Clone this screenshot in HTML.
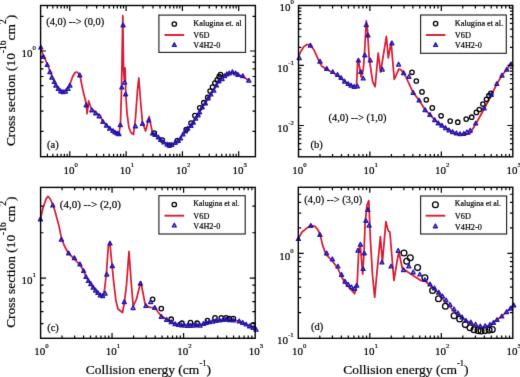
<!DOCTYPE html><html><head><meta charset="utf-8"><style>html,body{margin:0;padding:0;background:#fff;}svg{display:block;}text{font-family:"Liberation Serif", serif;fill:#000;stroke:#000;stroke-width:0.2px;}</style></head><body>
<svg width="520" height="377" viewBox="0 0 520 377">
<defs><filter id="bl" x="0" y="0" width="520" height="377" filterUnits="userSpaceOnUse" color-interpolation-filters="sRGB"><feConvolveMatrix order="3" kernelMatrix="0 1 0 1 8 1 0 1 0" divisor="12" edgeMode="duplicate"/></filter></defs><g filter="url(#bl)"><rect width="520" height="377" fill="#fff"/>
<path d="M40.50 48.50L43.50 55.50L47.00 63.50L50.00 71.00L52.00 76.50L54.50 81.50L56.00 85.00L58.30 88.50L60.70 91.00L63.00 92.00L65.50 91.00L68.00 87.50L70.00 84.00L72.50 77.00L75.00 72.50L77.00 72.00L79.00 74.00L80.50 78.00L82.00 86.00L84.00 95.00L86.10 103.00L87.10 113.70L88.70 100.90L90.90 107.80L95.90 112.70L100.20 115.60L102.90 121.60L106.50 125.40L109.70 128.40L112.90 130.70L115.00 132.20L117.20 133.20L119.00 134.00L120.50 123.00L121.50 90.00L122.80 15.60L123.60 70.00L124.30 80.00L125.10 68.00L125.80 94.00L127.00 113.00L129.00 128.00L131.00 132.50L133.50 134.50L135.50 118.00L137.50 90.00L138.80 78.00L140.50 100.00L142.40 122.30L145.60 131.00L149.20 116.70L152.40 132.60L155.10 134.70L158.30 137.00L160.70 139.50L163.90 142.20L167.10 144.30L169.50 145.40L171.80 144.60L175.00 142.70L178.20 140.60L180.60 138.20L183.00 134.20L185.40 131.00L187.80 128.30L191.00 125.50L193.30 122.30L195.70 118.30L198.10 115.10L202.20 107.00L205.40 103.00L208.10 98.20L210.90 94.20L213.80 90.30L216.50 85.20L218.90 81.00L222.10 78.80L224.50 75.90L226.80 74.00L229.20 73.10L232.40 72.30L235.60 73.10L238.00 74.60L242.80 76.50L248.80 80.40" fill="none" stroke="#d81c34" stroke-width="1.75" stroke-linejoin="round"/>
<circle cx="154.30" cy="133.00" r="2.2" fill="none" stroke="#000" stroke-width="1.3"/>
<circle cx="162.30" cy="140.00" r="2.2" fill="none" stroke="#000" stroke-width="1.3"/>
<circle cx="169.50" cy="145.00" r="2.2" fill="none" stroke="#000" stroke-width="1.3"/>
<circle cx="177.40" cy="140.60" r="2.2" fill="none" stroke="#000" stroke-width="1.3"/>
<circle cx="186.20" cy="129.50" r="2.2" fill="none" stroke="#000" stroke-width="1.3"/>
<circle cx="191.00" cy="123.10" r="2.2" fill="none" stroke="#000" stroke-width="1.3"/>
<circle cx="194.90" cy="115.60" r="2.2" fill="none" stroke="#000" stroke-width="1.3"/>
<circle cx="199.80" cy="107.80" r="2.2" fill="none" stroke="#000" stroke-width="1.3"/>
<circle cx="203.80" cy="102.70" r="2.2" fill="none" stroke="#000" stroke-width="1.3"/>
<circle cx="207.70" cy="97.40" r="2.2" fill="none" stroke="#000" stroke-width="1.3"/>
<circle cx="210.10" cy="91.00" r="2.2" fill="none" stroke="#000" stroke-width="1.3"/>
<circle cx="212.50" cy="87.10" r="2.2" fill="none" stroke="#000" stroke-width="1.3"/>
<circle cx="214.90" cy="83.10" r="2.2" fill="none" stroke="#000" stroke-width="1.3"/>
<circle cx="217.30" cy="79.90" r="2.2" fill="none" stroke="#000" stroke-width="1.3"/>
<circle cx="219.20" cy="76.70" r="2.2" fill="none" stroke="#000" stroke-width="1.3"/>
<circle cx="220.50" cy="74.60" r="2.2" fill="none" stroke="#000" stroke-width="1.3"/>
<path d="M40.80 45.20L42.85 48.95L38.75 48.95ZM43.50 54.70L45.55 58.45L41.45 58.45ZM47.20 62.70L49.25 66.45L45.15 66.45ZM49.90 69.80L51.95 73.55L47.85 73.55ZM51.90 75.40L53.95 79.15L49.85 79.15ZM54.30 79.70L56.35 83.45L52.25 83.45ZM55.90 83.40L57.95 87.15L53.85 87.15ZM58.30 86.60L60.35 90.35L56.25 90.35ZM60.70 89.00L62.75 92.75L58.65 92.75ZM63.10 89.80L65.15 93.55L61.05 93.55ZM65.50 89.30L67.55 93.05L63.45 93.05ZM67.90 86.60L69.95 90.35L65.85 90.35ZM69.90 83.40L71.95 87.15L67.85 87.15ZM79.80 73.00L81.85 76.75L77.75 76.75ZM86.20 103.00L88.25 106.75L84.15 106.75ZM91.80 108.00L93.85 111.75L89.75 111.75ZM95.70 111.00L97.75 114.75L93.65 114.75ZM99.20 114.00L101.25 117.75L97.15 117.75ZM102.90 119.60L104.95 123.35L100.85 123.35ZM106.50 123.40L108.55 127.15L104.45 127.15ZM109.70 126.40L111.75 130.15L107.65 130.15ZM112.90 128.70L114.95 132.45L110.85 132.45ZM115.00 130.20L117.05 133.95L112.95 133.95ZM117.20 131.20L119.25 134.95L115.15 134.95ZM118.90 131.90L120.95 135.65L116.85 135.65ZM120.30 122.90L122.35 126.65L118.25 126.65ZM121.80 85.20L123.85 88.95L119.75 88.95ZM123.10 23.00L125.15 26.75L121.05 26.75ZM124.60 80.30L126.65 84.05L122.55 84.05ZM125.60 92.00L127.65 95.75L123.55 95.75ZM135.40 124.00L137.45 127.75L133.35 127.75ZM142.50 121.50L144.55 125.25L140.45 125.25ZM148.70 118.00L150.75 121.75L146.65 121.75ZM152.50 131.20L154.55 134.95L150.45 134.95ZM155.10 132.70L157.15 136.45L153.05 136.45ZM158.30 135.00L160.35 138.75L156.25 138.75ZM160.70 137.50L162.75 141.25L158.65 141.25ZM163.90 140.20L165.95 143.95L161.85 143.95ZM167.10 142.30L169.15 146.05L165.05 146.05ZM169.50 143.40L171.55 147.15L167.45 147.15ZM171.80 142.60L173.85 146.35L169.75 146.35ZM175.00 140.70L177.05 144.45L172.95 144.45ZM178.20 138.60L180.25 142.35L176.15 142.35ZM180.60 136.20L182.65 139.95L178.55 139.95ZM183.00 132.20L185.05 135.95L180.95 135.95ZM185.40 129.00L187.45 132.75L183.35 132.75ZM187.80 126.30L189.85 130.05L185.75 130.05ZM191.00 123.50L193.05 127.25L188.95 127.25ZM193.30 120.30L195.35 124.05L191.25 124.05ZM195.70 116.30L197.75 120.05L193.65 120.05ZM198.10 113.10L200.15 116.85L196.05 116.85ZM199.50 110.00L201.55 113.75L197.45 113.75ZM202.20 105.00L204.25 108.75L200.15 108.75ZM205.40 101.00L207.45 104.75L203.35 104.75ZM208.10 96.20L210.15 99.95L206.05 99.95ZM210.90 92.20L212.95 95.95L208.85 95.95ZM213.80 88.30L215.85 92.05L211.75 92.05ZM216.50 83.20L218.55 86.95L214.45 86.95ZM218.90 79.00L220.95 82.75L216.85 82.75ZM222.10 76.80L224.15 80.55L220.05 80.55ZM224.50 73.90L226.55 77.65L222.45 77.65ZM226.80 72.00L228.85 75.75L224.75 75.75ZM229.20 71.10L231.25 74.85L227.15 74.85ZM232.40 69.90L234.45 73.65L230.35 73.65ZM235.60 71.10L237.65 74.85L233.55 74.85ZM238.00 72.60L240.05 76.35L235.95 76.35ZM242.80 73.90L244.85 77.65L240.75 77.65ZM248.80 78.40L250.85 82.15L246.75 82.15Z" fill="#1f16b0" fill-opacity="0.45" stroke="#1f16b0" stroke-width="1.3" stroke-linejoin="round"/>
<rect x="40.6" y="5.5" width="214.80" height="151.20" fill="none" stroke="#000" stroke-width="1.4"/>
<path d="M47.40 156.70v-2.9M47.40 5.50v2.9M52.85 156.70v-2.9M52.85 5.50v2.9M57.31 156.70v-2.9M57.31 5.50v2.9M61.08 156.70v-2.9M61.08 5.50v2.9M64.34 156.70v-2.9M64.34 5.50v2.9M67.22 156.70v-2.9M67.22 5.50v2.9M69.80 156.70v-5.4M69.80 5.50v5.4M86.75 156.70v-2.9M86.75 5.50v2.9M96.66 156.70v-2.9M96.66 5.50v2.9M103.70 156.70v-2.9M103.70 5.50v2.9M109.15 156.70v-2.9M109.15 5.50v2.9M113.61 156.70v-2.9M113.61 5.50v2.9M117.38 156.70v-2.9M117.38 5.50v2.9M120.64 156.70v-2.9M120.64 5.50v2.9M123.52 156.70v-2.9M123.52 5.50v2.9M126.10 156.70v-5.4M126.10 5.50v5.4M143.05 156.70v-2.9M143.05 5.50v2.9M152.96 156.70v-2.9M152.96 5.50v2.9M160.00 156.70v-2.9M160.00 5.50v2.9M165.45 156.70v-2.9M165.45 5.50v2.9M169.91 156.70v-2.9M169.91 5.50v2.9M173.68 156.70v-2.9M173.68 5.50v2.9M176.94 156.70v-2.9M176.94 5.50v2.9M179.82 156.70v-2.9M179.82 5.50v2.9M182.40 156.70v-5.4M182.40 5.50v5.4M199.35 156.70v-2.9M199.35 5.50v2.9M209.26 156.70v-2.9M209.26 5.50v2.9M216.30 156.70v-2.9M216.30 5.50v2.9M221.75 156.70v-2.9M221.75 5.50v2.9M226.21 156.70v-2.9M226.21 5.50v2.9M229.98 156.70v-2.9M229.98 5.50v2.9M233.24 156.70v-2.9M233.24 5.50v2.9M236.12 156.70v-2.9M236.12 5.50v2.9M238.70 156.70v-5.4M238.70 5.50v5.4M40.60 131.38h2.9M255.40 131.38h-2.9M40.60 111.13h2.9M255.40 111.13h-2.9M40.60 96.76h2.9M255.40 96.76h-2.9M40.60 85.62h2.9M255.40 85.62h-2.9M40.60 76.51h2.9M255.40 76.51h-2.9M40.60 68.81h2.9M255.40 68.81h-2.9M40.60 62.14h2.9M255.40 62.14h-2.9M40.60 56.26h2.9M255.40 56.26h-2.9M40.60 51.00h5.4M255.40 51.00h-5.4M40.60 16.38h2.9M255.40 16.38h-2.9" stroke="#000" stroke-width="1.2" fill="none"/>
<path d="M298.50 56.60L301.00 51.00L304.00 46.50L307.00 44.50L309.00 44.50L311.50 46.50L314.00 50.00L316.00 54.30L319.50 62.20L321.90 66.20L326.70 69.50L332.70 72.50L337.50 75.50L341.10 78.50L344.60 81.50L348.20 84.00L351.10 85.50L353.00 86.60L356.50 86.40L357.70 61.40L358.40 60.20L361.20 77.00L363.20 70.00L364.40 55.50L366.30 20.80L367.50 30.00L369.10 57.80L372.70 81.80L375.10 86.60L378.20 53.10L380.60 72.20L386.40 36.30L388.30 57.80L391.10 42.30L394.30 79.40L398.80 69.10L400.90 69.60L405.70 76.50L411.50 89.20L413.20 92.60L419.10 100.20L425.10 109.80L429.90 114.60L434.70 119.90L438.30 123.00L441.90 125.40L445.50 127.80L449.00 130.10L452.60 131.80L456.20 133.30L460.00 134.00L469.70 134.00L475.70 124.00L484.10 109.00L491.30 95.00L496.80 84.00L502.00 75.30L506.80 69.40L511.60 62.50" fill="none" stroke="#d81c34" stroke-width="1.75" stroke-linejoin="round"/>
<circle cx="412.00" cy="72.30" r="2.2" fill="none" stroke="#000" stroke-width="1.3"/>
<circle cx="416.30" cy="81.00" r="2.2" fill="none" stroke="#000" stroke-width="1.3"/>
<circle cx="422.00" cy="91.90" r="2.2" fill="none" stroke="#000" stroke-width="1.3"/>
<circle cx="426.30" cy="99.80" r="2.2" fill="none" stroke="#000" stroke-width="1.3"/>
<circle cx="432.30" cy="107.90" r="2.2" fill="none" stroke="#000" stroke-width="1.3"/>
<circle cx="441.10" cy="115.80" r="2.2" fill="none" stroke="#000" stroke-width="1.3"/>
<circle cx="450.20" cy="121.10" r="2.2" fill="none" stroke="#000" stroke-width="1.3"/>
<circle cx="457.80" cy="122.20" r="2.2" fill="none" stroke="#000" stroke-width="1.3"/>
<circle cx="466.20" cy="119.10" r="2.2" fill="none" stroke="#000" stroke-width="1.3"/>
<circle cx="471.70" cy="117.20" r="2.2" fill="none" stroke="#000" stroke-width="1.3"/>
<circle cx="476.40" cy="112.40" r="2.2" fill="none" stroke="#000" stroke-width="1.3"/>
<circle cx="479.30" cy="109.50" r="2.2" fill="none" stroke="#000" stroke-width="1.3"/>
<circle cx="482.90" cy="104.00" r="2.2" fill="none" stroke="#000" stroke-width="1.3"/>
<circle cx="486.50" cy="99.30" r="2.2" fill="none" stroke="#000" stroke-width="1.3"/>
<circle cx="488.90" cy="95.70" r="2.2" fill="none" stroke="#000" stroke-width="1.3"/>
<circle cx="490.80" cy="93.30" r="2.2" fill="none" stroke="#000" stroke-width="1.3"/>
<path d="M299.20 55.80L301.25 59.55L297.15 59.55ZM310.40 43.40L312.45 47.15L308.35 47.15ZM320.00 59.40L322.05 63.15L317.95 63.15ZM326.70 66.60L328.75 70.35L324.65 70.35ZM332.70 69.70L334.75 73.45L330.65 73.45ZM337.50 72.60L339.55 76.35L335.45 76.35ZM341.10 75.70L343.15 79.45L339.05 79.45ZM344.60 79.30L346.65 83.05L342.55 83.05ZM348.20 81.70L350.25 85.45L346.15 85.45ZM351.10 83.40L353.15 87.15L349.05 87.15ZM354.20 84.60L356.25 88.35L352.15 88.35ZM357.30 84.10L359.35 87.85L355.25 87.85ZM358.40 58.20L360.45 61.95L356.35 61.95ZM360.80 69.70L362.85 73.45L358.75 73.45ZM363.20 76.20L365.25 79.95L361.15 79.95ZM364.80 53.00L366.85 56.75L362.75 56.75ZM366.30 22.80L368.35 26.55L364.25 26.55ZM367.90 33.10L369.95 36.85L365.85 36.85ZM370.30 58.20L372.35 61.95L368.25 61.95ZM382.30 67.30L384.35 71.05L380.25 71.05ZM391.90 41.00L393.95 44.75L389.85 44.75ZM398.60 62.30L400.65 66.05L396.55 66.05ZM403.60 70.80L405.65 74.55L401.55 74.55ZM408.90 74.50L410.95 78.25L406.85 78.25ZM413.20 90.60L415.25 94.35L411.15 94.35ZM419.10 98.20L421.15 101.95L417.05 101.95ZM425.10 107.80L427.15 111.55L423.05 111.55ZM429.90 112.60L431.95 116.35L427.85 116.35ZM434.70 117.90L436.75 121.65L432.65 121.65ZM438.30 121.00L440.35 124.75L436.25 124.75ZM441.90 123.40L443.95 127.15L439.85 127.15ZM445.50 125.80L447.55 129.55L443.45 129.55ZM449.00 128.10L451.05 131.85L446.95 131.85ZM452.60 129.80L454.65 133.55L450.55 133.55ZM456.40 131.00L458.45 134.75L454.35 134.75ZM460.00 131.80L462.05 135.55L457.95 135.55ZM463.80 131.50L465.85 135.25L461.75 135.25ZM466.90 130.00L468.95 133.75L464.85 133.75ZM470.20 128.40L472.25 132.15L468.15 132.15ZM475.70 121.20L477.75 124.95L473.65 124.95ZM484.10 106.10L486.15 109.85L482.05 109.85ZM491.30 92.50L493.35 96.25L489.25 96.25ZM496.80 81.70L498.85 85.45L494.75 85.45ZM502.00 73.30L504.05 77.05L499.95 77.05ZM506.80 67.40L508.85 71.15L504.75 71.15ZM510.90 62.10L512.95 65.85L508.85 65.85Z" fill="#1f16b0" fill-opacity="0.45" stroke="#1f16b0" stroke-width="1.3" stroke-linejoin="round"/>
<rect x="298.5" y="5.5" width="214.30" height="151.30" fill="none" stroke="#000" stroke-width="1.4"/>
<path d="M319.99 156.80v-2.9M319.99 5.50v2.9M332.57 156.80v-2.9M332.57 5.50v2.9M341.49 156.80v-2.9M341.49 5.50v2.9M348.41 156.80v-2.9M348.41 5.50v2.9M354.06 156.80v-2.9M354.06 5.50v2.9M358.84 156.80v-2.9M358.84 5.50v2.9M362.98 156.80v-2.9M362.98 5.50v2.9M366.63 156.80v-2.9M366.63 5.50v2.9M369.90 156.80v-5.4M369.90 5.50v5.4M391.39 156.80v-2.9M391.39 5.50v2.9M403.97 156.80v-2.9M403.97 5.50v2.9M412.89 156.80v-2.9M412.89 5.50v2.9M419.81 156.80v-2.9M419.81 5.50v2.9M425.46 156.80v-2.9M425.46 5.50v2.9M430.24 156.80v-2.9M430.24 5.50v2.9M434.38 156.80v-2.9M434.38 5.50v2.9M438.03 156.80v-2.9M438.03 5.50v2.9M441.30 156.80v-5.4M441.30 5.50v5.4M462.79 156.80v-2.9M462.79 5.50v2.9M475.37 156.80v-2.9M475.37 5.50v2.9M484.29 156.80v-2.9M484.29 5.50v2.9M491.21 156.80v-2.9M491.21 5.50v2.9M496.86 156.80v-2.9M496.86 5.50v2.9M501.64 156.80v-2.9M501.64 5.50v2.9M505.78 156.80v-2.9M505.78 5.50v2.9M509.43 156.80v-2.9M509.43 5.50v2.9M298.50 149.42h2.9M512.80 149.42h-2.9M298.50 143.59h2.9M512.80 143.59h-2.9M298.50 138.83h2.9M512.80 138.83h-2.9M298.50 134.81h2.9M512.80 134.81h-2.9M298.50 131.32h2.9M512.80 131.32h-2.9M298.50 128.25h2.9M512.80 128.25h-2.9M298.50 125.50h5.4M512.80 125.50h-5.4M298.50 107.41h2.9M512.80 107.41h-2.9M298.50 96.83h2.9M512.80 96.83h-2.9M298.50 89.32h2.9M512.80 89.32h-2.9M298.50 83.49h2.9M512.80 83.49h-2.9M298.50 78.73h2.9M512.80 78.73h-2.9M298.50 74.71h2.9M512.80 74.71h-2.9M298.50 71.22h2.9M512.80 71.22h-2.9M298.50 68.15h2.9M512.80 68.15h-2.9M298.50 65.40h5.4M512.80 65.40h-5.4M298.50 47.31h2.9M512.80 47.31h-2.9M298.50 36.73h2.9M512.80 36.73h-2.9M298.50 29.22h2.9M512.80 29.22h-2.9M298.50 23.39h2.9M512.80 23.39h-2.9M298.50 18.63h2.9M512.80 18.63h-2.9M298.50 14.61h2.9M512.80 14.61h-2.9M298.50 11.12h2.9M512.80 11.12h-2.9M298.50 8.05h2.9M512.80 8.05h-2.9" stroke="#000" stroke-width="1.2" fill="none"/>
<path d="M40.40 219.10L43.00 208.00L46.00 199.00L48.00 196.40L50.00 198.50L52.80 204.70L55.00 211.00L57.10 219.10L59.00 226.00L60.70 234.60L61.90 239.40L64.00 245.00L67.90 252.60L73.90 258.60L79.90 264.60L83.60 270.70L86.00 276.70L88.40 280.70L90.80 283.80L93.20 287.40L95.60 290.30L97.90 292.70L100.30 295.10L102.70 295.80L104.50 290.00L106.50 272.00L108.30 246.00L109.80 242.00L111.70 262.00L113.50 280.20L115.90 300.60L118.00 309.00L122.50 312.50L124.30 303.00L126.50 285.00L129.00 251.50L131.00 280.00L133.20 306.50L136.50 299.00L140.80 281.80L143.00 293.00L145.10 304.10L147.50 306.50L150.00 307.30L153.90 307.50L155.30 307.90L158.00 312.00L160.60 315.20L166.60 319.50L171.20 321.90L175.20 323.90L180.00 325.00L190.00 325.60L200.00 325.00L209.20 321.90L216.10 320.50L221.90 320.50L226.00 320.00L233.40 320.20L239.20 321.00L246.10 324.20L253.10 327.70L256.00 329.40" fill="none" stroke="#d81c34" stroke-width="1.75" stroke-linejoin="round"/>
<circle cx="152.60" cy="299.30" r="2.2" fill="none" stroke="#000" stroke-width="1.3"/>
<circle cx="161.30" cy="308.60" r="2.2" fill="none" stroke="#000" stroke-width="1.3"/>
<circle cx="171.20" cy="319.20" r="2.2" fill="none" stroke="#000" stroke-width="1.3"/>
<circle cx="181.90" cy="323.20" r="2.2" fill="none" stroke="#000" stroke-width="1.3"/>
<circle cx="190.50" cy="322.50" r="2.2" fill="none" stroke="#000" stroke-width="1.3"/>
<circle cx="197.10" cy="323.20" r="2.2" fill="none" stroke="#000" stroke-width="1.3"/>
<circle cx="207.50" cy="320.50" r="2.2" fill="none" stroke="#000" stroke-width="1.3"/>
<circle cx="215.00" cy="317.90" r="2.2" fill="none" stroke="#000" stroke-width="1.3"/>
<circle cx="221.30" cy="317.90" r="2.2" fill="none" stroke="#000" stroke-width="1.3"/>
<circle cx="226.00" cy="317.90" r="2.2" fill="none" stroke="#000" stroke-width="1.3"/>
<circle cx="229.40" cy="318.50" r="2.2" fill="none" stroke="#000" stroke-width="1.3"/>
<circle cx="233.40" cy="318.50" r="2.2" fill="none" stroke="#000" stroke-width="1.3"/>
<circle cx="253.10" cy="324.80" r="2.2" fill="none" stroke="#000" stroke-width="1.3"/>
<path d="M40.40 217.10L42.45 220.85L38.35 220.85ZM52.80 203.20L54.85 206.95L50.75 206.95ZM61.40 237.40L63.45 241.15L59.35 241.15ZM68.60 251.10L70.65 254.85L66.55 254.85ZM74.40 255.90L76.45 259.65L72.35 259.65ZM79.90 262.10L81.95 265.85L77.85 265.85ZM83.60 268.70L85.65 272.45L81.55 272.45ZM86.00 274.70L88.05 278.45L83.95 278.45ZM88.40 278.70L90.45 282.45L86.35 282.45ZM90.80 281.80L92.85 285.55L88.75 285.55ZM93.20 285.40L95.25 289.15L91.15 289.15ZM95.60 288.30L97.65 292.05L93.55 292.05ZM97.90 290.70L99.95 294.45L95.85 294.45ZM100.30 293.10L102.35 296.85L98.25 296.85ZM102.70 293.80L104.75 297.55L100.65 297.55ZM105.10 291.40L107.15 295.15L103.05 295.15ZM106.80 272.30L108.85 276.05L104.75 276.05ZM110.00 241.20L112.05 244.95L107.95 244.95ZM112.30 263.90L114.35 267.65L110.25 267.65ZM124.30 299.80L126.35 303.55L122.25 303.55ZM133.10 305.80L135.15 309.55L131.05 309.55ZM140.40 281.40L142.45 285.15L138.35 285.15ZM145.90 303.70L147.95 307.45L143.85 307.45ZM150.70 299.80L152.75 303.55L148.65 303.55ZM154.70 305.60L156.75 309.35L152.65 309.35ZM161.30 314.60L163.35 318.35L159.25 318.35ZM166.60 317.50L168.65 321.25L164.55 321.25ZM171.20 319.90L173.25 323.65L169.15 323.65ZM175.20 321.90L177.25 325.65L173.15 325.65ZM178.50 322.50L180.55 326.25L176.45 326.25ZM181.50 323.00L183.55 326.75L179.45 326.75ZM184.50 323.30L186.55 327.05L182.45 327.05ZM187.50 323.50L189.55 327.25L185.45 327.25ZM190.50 323.50L192.55 327.25L188.45 327.25ZM193.50 323.30L195.55 327.05L191.45 327.05ZM196.50 323.00L198.55 326.75L194.45 326.75ZM200.00 323.40L202.05 327.15L197.95 327.15ZM203.50 321.60L205.55 325.35L201.45 325.35ZM206.30 320.50L208.35 324.25L204.25 324.25ZM209.20 319.90L211.25 323.65L207.15 323.65ZM212.70 319.30L214.75 323.05L210.65 323.05ZM216.10 318.50L218.15 322.25L214.05 322.25ZM219.60 318.20L221.65 321.95L217.55 321.95ZM223.10 317.60L225.15 321.35L221.05 321.35ZM226.00 317.40L228.05 321.15L223.95 321.15ZM229.40 317.80L231.45 321.55L227.35 321.55ZM233.40 318.20L235.45 321.95L231.35 321.95ZM239.20 319.00L241.25 322.75L237.15 322.75ZM242.70 320.50L244.75 324.25L240.65 324.25ZM246.10 322.20L248.15 325.95L244.05 325.95ZM249.60 324.00L251.65 327.75L247.55 327.75ZM253.10 325.70L255.15 329.45L251.05 329.45ZM256.00 327.40L258.05 331.15L253.95 331.15Z" fill="#1f16b0" fill-opacity="0.45" stroke="#1f16b0" stroke-width="1.3" stroke-linejoin="round"/>
<rect x="40.6" y="187.4" width="214.60" height="150.90" fill="none" stroke="#000" stroke-width="1.4"/>
<path d="M62.04 338.30v-2.9M62.04 187.40v2.9M74.64 338.30v-2.9M74.64 187.40v2.9M83.58 338.30v-2.9M83.58 187.40v2.9M90.51 338.30v-2.9M90.51 187.40v2.9M96.18 338.30v-2.9M96.18 187.40v2.9M100.97 338.30v-2.9M100.97 187.40v2.9M105.12 338.30v-2.9M105.12 187.40v2.9M108.78 338.30v-2.9M108.78 187.40v2.9M112.05 338.30v-5.4M112.05 187.40v5.4M133.59 338.30v-2.9M133.59 187.40v2.9M146.19 338.30v-2.9M146.19 187.40v2.9M155.13 338.30v-2.9M155.13 187.40v2.9M162.06 338.30v-2.9M162.06 187.40v2.9M167.73 338.30v-2.9M167.73 187.40v2.9M172.52 338.30v-2.9M172.52 187.40v2.9M176.67 338.30v-2.9M176.67 187.40v2.9M180.33 338.30v-2.9M180.33 187.40v2.9M183.60 338.30v-5.4M183.60 187.40v5.4M205.14 338.30v-2.9M205.14 187.40v2.9M217.74 338.30v-2.9M217.74 187.40v2.9M226.68 338.30v-2.9M226.68 187.40v2.9M233.61 338.30v-2.9M233.61 187.40v2.9M239.28 338.30v-2.9M239.28 187.40v2.9M244.07 338.30v-2.9M244.07 187.40v2.9M248.22 338.30v-2.9M248.22 187.40v2.9M251.88 338.30v-2.9M251.88 187.40v2.9M40.60 323.63h2.9M255.20 323.63h-2.9M40.60 311.68h2.9M255.20 311.68h-2.9M40.60 301.57h2.9M255.20 301.57h-2.9M40.60 292.82h2.9M255.20 292.82h-2.9M40.60 285.10h2.9M255.20 285.10h-2.9M40.60 278.20h5.4M255.20 278.20h-5.4M40.60 232.77h2.9M255.20 232.77h-2.9M40.60 206.20h2.9M255.20 206.20h-2.9" stroke="#000" stroke-width="1.2" fill="none"/>
<path d="M298.40 238.70L302.00 232.00L305.60 229.10L310.80 225.60L315.10 226.30L318.00 230.00L319.90 233.90L322.80 245.90L325.90 254.30L332.40 261.00L337.90 268.50L341.50 276.50L345.00 283.00L348.20 286.50L351.50 290.10L354.60 293.70L357.20 283.00L358.80 249.60L360.40 246.00L362.70 274.20L364.00 252.70L365.10 223.70L367.00 205.00L368.80 200.60L370.40 240.00L372.50 275.00L374.70 297.30L377.00 271.80L380.40 236.70L382.40 262.20L385.90 221.60L388.30 231.10L389.90 232.00L393.90 280.50L398.30 254.20L399.10 253.00L402.30 268.30L410.00 273.50L421.20 280.70L424.90 281.00L430.00 285.00L438.70 293.10L445.00 302.00L455.00 312.00L465.00 320.00L475.00 325.50L481.90 327.70L489.90 325.00L497.00 319.70L501.80 316.20L506.60 311.80L510.50 308.30L513.70 305.10" fill="none" stroke="#d81c34" stroke-width="1.75" stroke-linejoin="round"/>
<circle cx="404.00" cy="253.00" r="2.9" fill="none" stroke="#000" stroke-width="1.3"/>
<circle cx="410.30" cy="257.80" r="2.9" fill="none" stroke="#000" stroke-width="1.3"/>
<circle cx="406.70" cy="261.30" r="2.9" fill="none" stroke="#000" stroke-width="1.3"/>
<circle cx="417.60" cy="267.60" r="2.9" fill="none" stroke="#000" stroke-width="1.3"/>
<circle cx="424.90" cy="277.80" r="2.9" fill="none" stroke="#000" stroke-width="1.3"/>
<circle cx="432.60" cy="290.50" r="2.9" fill="none" stroke="#000" stroke-width="1.3"/>
<circle cx="438.50" cy="298.80" r="2.9" fill="none" stroke="#000" stroke-width="1.3"/>
<circle cx="445.40" cy="306.30" r="2.9" fill="none" stroke="#000" stroke-width="1.3"/>
<circle cx="454.10" cy="315.80" r="2.9" fill="none" stroke="#000" stroke-width="1.3"/>
<circle cx="459.70" cy="319.00" r="2.9" fill="none" stroke="#000" stroke-width="1.3"/>
<circle cx="465.30" cy="324.60" r="2.9" fill="none" stroke="#000" stroke-width="1.3"/>
<circle cx="470.00" cy="327.80" r="2.9" fill="none" stroke="#000" stroke-width="1.3"/>
<circle cx="474.00" cy="329.70" r="2.9" fill="none" stroke="#000" stroke-width="1.3"/>
<circle cx="478.00" cy="330.60" r="2.9" fill="none" stroke="#000" stroke-width="1.3"/>
<circle cx="481.10" cy="330.90" r="2.9" fill="none" stroke="#000" stroke-width="1.3"/>
<circle cx="485.10" cy="330.60" r="2.9" fill="none" stroke="#000" stroke-width="1.3"/>
<circle cx="489.10" cy="330.10" r="2.9" fill="none" stroke="#000" stroke-width="1.3"/>
<circle cx="492.30" cy="329.60" r="2.9" fill="none" stroke="#000" stroke-width="1.3"/>
<path d="M298.40 236.70L300.45 240.45L296.35 240.45ZM310.80 223.60L312.85 227.35L308.75 227.35ZM319.90 232.60L321.95 236.35L317.85 236.35ZM326.60 251.10L328.65 254.85L324.55 254.85ZM332.40 257.00L334.45 260.75L330.35 260.75ZM337.90 264.20L339.95 267.95L335.85 267.95ZM341.50 272.60L343.55 276.35L339.45 276.35ZM345.00 279.30L347.05 283.05L342.95 283.05ZM348.20 282.60L350.25 286.35L346.15 286.35ZM351.50 285.00L353.55 288.75L349.45 288.75ZM354.60 286.50L356.65 290.25L352.55 290.25ZM356.70 283.40L358.75 287.15L354.65 287.15ZM358.00 248.40L360.05 252.15L355.95 252.15ZM360.40 242.40L362.45 246.15L358.35 246.15ZM363.10 266.70L365.15 270.45L361.05 270.45ZM364.30 251.00L366.35 254.75L362.25 254.75ZM365.90 218.50L367.95 222.25L363.85 222.25ZM367.80 207.60L369.85 211.35L365.75 211.35ZM369.10 223.30L371.15 227.05L367.05 227.05ZM381.90 260.20L383.95 263.95L379.85 263.95ZM391.00 264.20L393.05 267.95L388.95 267.95ZM398.20 248.50L400.25 252.25L396.15 252.25ZM403.50 267.80L405.55 271.55L401.45 271.55ZM408.80 264.10L410.85 267.85L406.75 267.85ZM413.20 270.00L415.25 273.75L411.15 273.75ZM419.80 272.20L421.85 275.95L417.75 275.95ZM424.90 277.70L426.95 281.45L422.85 281.45ZM430.00 282.10L432.05 285.85L427.95 285.85ZM434.40 286.00L436.45 289.75L432.35 289.75ZM438.70 290.40L440.75 294.15L436.65 294.15ZM442.40 294.00L444.45 297.75L440.35 297.75ZM446.00 298.00L448.05 301.75L443.95 301.75ZM450.00 302.50L452.05 306.25L447.95 306.25ZM454.00 307.00L456.05 310.75L451.95 310.75ZM458.00 311.00L460.05 314.75L455.95 314.75ZM462.00 315.00L464.05 318.75L459.95 318.75ZM466.00 318.50L468.05 322.25L463.95 322.25ZM470.80 320.10L472.85 323.85L468.75 323.85ZM475.60 322.20L477.65 325.95L473.55 325.95ZM480.30 324.10L482.35 327.85L478.25 327.85ZM485.10 323.80L487.15 327.55L483.05 327.55ZM489.90 322.50L491.95 326.25L487.85 326.25ZM493.50 320.50L495.55 324.25L491.45 324.25ZM497.00 317.70L499.05 321.45L494.95 321.45ZM501.80 314.20L503.85 317.95L499.75 317.95ZM506.60 309.80L508.65 313.55L504.55 313.55ZM510.50 306.30L512.55 310.05L508.45 310.05ZM513.70 303.10L515.75 306.85L511.65 306.85Z" fill="#1f16b0" fill-opacity="0.45" stroke="#1f16b0" stroke-width="1.3" stroke-linejoin="round"/>
<rect x="298.3" y="187.3" width="214.50" height="151.00" fill="none" stroke="#000" stroke-width="1.4"/>
<path d="M319.82 338.30v-2.9M319.82 187.30v2.9M332.41 338.30v-2.9M332.41 187.30v2.9M341.35 338.30v-2.9M341.35 187.30v2.9M348.28 338.30v-2.9M348.28 187.30v2.9M353.94 338.30v-2.9M353.94 187.30v2.9M358.72 338.30v-2.9M358.72 187.30v2.9M362.87 338.30v-2.9M362.87 187.30v2.9M366.53 338.30v-2.9M366.53 187.30v2.9M369.80 338.30v-5.4M369.80 187.30v5.4M391.32 338.30v-2.9M391.32 187.30v2.9M403.91 338.30v-2.9M403.91 187.30v2.9M412.85 338.30v-2.9M412.85 187.30v2.9M419.78 338.30v-2.9M419.78 187.30v2.9M425.44 338.30v-2.9M425.44 187.30v2.9M430.22 338.30v-2.9M430.22 187.30v2.9M434.37 338.30v-2.9M434.37 187.30v2.9M438.03 338.30v-2.9M438.03 187.30v2.9M441.30 338.30v-5.4M441.30 187.30v5.4M462.82 338.30v-2.9M462.82 187.30v2.9M475.41 338.30v-2.9M475.41 187.30v2.9M484.35 338.30v-2.9M484.35 187.30v2.9M491.28 338.30v-2.9M491.28 187.30v2.9M496.94 338.30v-2.9M496.94 187.30v2.9M501.72 338.30v-2.9M501.72 187.30v2.9M505.87 338.30v-2.9M505.87 187.30v2.9M509.53 338.30v-2.9M509.53 187.30v2.9M298.30 312.53h2.9M512.80 312.53h-2.9M298.30 297.64h2.9M512.80 297.64h-2.9M298.30 287.07h2.9M512.80 287.07h-2.9M298.30 278.87h2.9M512.80 278.87h-2.9M298.30 272.17h2.9M512.80 272.17h-2.9M298.30 266.50h2.9M512.80 266.50h-2.9M298.30 261.60h2.9M512.80 261.60h-2.9M298.30 257.27h2.9M512.80 257.27h-2.9M298.30 253.40h5.4M512.80 253.40h-5.4M298.30 227.93h2.9M512.80 227.93h-2.9M298.30 213.04h2.9M512.80 213.04h-2.9M298.30 202.47h2.9M512.80 202.47h-2.9M298.30 194.27h2.9M512.80 194.27h-2.9" stroke="#000" stroke-width="1.2" fill="none"/>
<text x="70.70" y="173.70" font-size="11" text-anchor="middle">10<tspan font-size="6.8" dy="-7.0">0</tspan></text>
<text x="127.00" y="173.70" font-size="11" text-anchor="middle">10<tspan font-size="6.8" dy="-7.0">1</tspan></text>
<text x="183.30" y="173.70" font-size="11" text-anchor="middle">10<tspan font-size="6.8" dy="-7.0">2</tspan></text>
<text x="239.60" y="173.70" font-size="11" text-anchor="middle">10<tspan font-size="6.8" dy="-7.0">3</tspan></text>
<text x="299.40" y="173.80" font-size="11" text-anchor="middle">10<tspan font-size="6.8" dy="-7.0">0</tspan></text>
<text x="370.80" y="173.80" font-size="11" text-anchor="middle">10<tspan font-size="6.8" dy="-7.0">1</tspan></text>
<text x="442.20" y="173.80" font-size="11" text-anchor="middle">10<tspan font-size="6.8" dy="-7.0">2</tspan></text>
<text x="513.60" y="173.80" font-size="11" text-anchor="middle">10<tspan font-size="6.8" dy="-7.0">3</tspan></text>
<text x="41.40" y="355.30" font-size="11" text-anchor="middle">10<tspan font-size="6.8" dy="-7.0">0</tspan></text>
<text x="112.95" y="355.30" font-size="11" text-anchor="middle">10<tspan font-size="6.8" dy="-7.0">1</tspan></text>
<text x="184.50" y="355.30" font-size="11" text-anchor="middle">10<tspan font-size="6.8" dy="-7.0">2</tspan></text>
<text x="256.05" y="355.30" font-size="11" text-anchor="middle">10<tspan font-size="6.8" dy="-7.0">3</tspan></text>
<text x="299.20" y="355.30" font-size="11" text-anchor="middle">10<tspan font-size="6.8" dy="-7.0">0</tspan></text>
<text x="370.70" y="355.30" font-size="11" text-anchor="middle">10<tspan font-size="6.8" dy="-7.0">1</tspan></text>
<text x="442.20" y="355.30" font-size="11" text-anchor="middle">10<tspan font-size="6.8" dy="-7.0">2</tspan></text>
<text x="513.70" y="355.30" font-size="11" text-anchor="middle">10<tspan font-size="6.8" dy="-7.0">3</tspan></text>
<text x="36.00" y="57.10" font-size="11" text-anchor="end">10<tspan font-size="6.8" dy="-7.0">0</tspan></text>
<text x="293.90" y="11.40" font-size="11" text-anchor="end">10<tspan font-size="6.8" dy="-7.0">0</tspan></text>
<text x="293.90" y="71.50" font-size="11" text-anchor="end">10<tspan font-size="6.8" dy="-7.0">-1</tspan></text>
<text x="293.90" y="131.60" font-size="11" text-anchor="end">10<tspan font-size="6.8" dy="-7.0">-2</tspan></text>
<text x="36.00" y="284.30" font-size="11" text-anchor="end">10<tspan font-size="6.8" dy="-7.0">1</tspan></text>
<text x="293.70" y="259.50" font-size="11" text-anchor="end">10<tspan font-size="6.8" dy="-7.0">0</tspan></text>
<text x="293.70" y="344.10" font-size="11" text-anchor="end">10<tspan font-size="6.8" dy="-7.0">-1</tspan></text>
<text x="46.3" y="25.2" font-size="10.4" text-anchor="start">(4,0) --&gt; (0,0)</text>
<text x="328.6" y="121.2" font-size="10.4" text-anchor="start">(4,0) --&gt; (1,0)</text>
<text x="59.8" y="208.0" font-size="11.0" text-anchor="start">(4,0) --&gt; (2,0)</text>
<text x="304.3" y="202.6" font-size="10.4" text-anchor="start">(4,0) --&gt; (3,0)</text>
<text x="47" y="148" font-size="10.5" text-anchor="start">(a)</text>
<text x="310.6" y="148" font-size="10.5" text-anchor="start">(b)</text>
<text x="47.2" y="330.5" font-size="10.5" text-anchor="start">(c)</text>
<text x="311.1" y="329.5" font-size="10.5" text-anchor="start">(d)</text>
<rect x="158.9" y="15.1" width="86.60" height="37.30" fill="#fff" stroke="#222" stroke-width="1.15"/>
<circle cx="174.3" cy="24.0" r="2.2" fill="none" stroke="#000" stroke-width="1.3"/>
<path d="M164.5 35.0h19.6" stroke="#d81c34" stroke-width="1.9"/>
<path d="M174.30 42.70L176.35 46.45L172.25 46.45Z" fill="#1f16b0" fill-opacity="0.45" stroke="#1f16b0" stroke-width="1.3" stroke-linejoin="round"/>
<text x="193.3" y="26.0" font-size="8.25" text-anchor="start">Kalugina et. al</text>
<text x="193.3" y="37.8" font-size="8.25" text-anchor="start">V6D</text>
<text x="193.3" y="48.300000000000004" font-size="8.25" text-anchor="start">V4H2-0</text>
<rect x="420.6" y="15.0" width="85.70" height="38.30" fill="#fff" stroke="#222" stroke-width="1.15"/>
<circle cx="435.6" cy="23.6" r="2.2" fill="none" stroke="#000" stroke-width="1.3"/>
<path d="M425.8 35.0h19.6" stroke="#d81c34" stroke-width="1.9"/>
<path d="M435.60 42.70L437.65 46.45L433.55 46.45Z" fill="#1f16b0" fill-opacity="0.45" stroke="#1f16b0" stroke-width="1.3" stroke-linejoin="round"/>
<text x="454.8" y="25.6" font-size="8.25" text-anchor="start">Kalugina et al.</text>
<text x="454.8" y="37.8" font-size="8.25" text-anchor="start">V6D</text>
<text x="454.8" y="48.300000000000004" font-size="8.25" text-anchor="start">V4H2-0</text>
<rect x="158.9" y="195.7" width="86.30" height="38.30" fill="#fff" stroke="#222" stroke-width="1.15"/>
<circle cx="174.3" cy="204.5" r="2.2" fill="none" stroke="#000" stroke-width="1.3"/>
<path d="M164.5 215.7h19.6" stroke="#d81c34" stroke-width="1.9"/>
<path d="M174.30 223.20L176.35 226.95L172.25 226.95Z" fill="#1f16b0" fill-opacity="0.45" stroke="#1f16b0" stroke-width="1.3" stroke-linejoin="round"/>
<text x="193.3" y="206.2" font-size="7.9" text-anchor="start">Kalugina et al.</text>
<text x="193.3" y="218.5" font-size="8.25" text-anchor="start">V6D</text>
<text x="193.3" y="228.79999999999998" font-size="8.25" text-anchor="start">V4H2-0</text>
<rect x="420.6" y="196.0" width="86.00" height="38.00" fill="#fff" stroke="#222" stroke-width="1.15"/>
<circle cx="435.4" cy="204.7" r="2.9" fill="none" stroke="#000" stroke-width="1.3"/>
<path d="M425.59999999999997 215.7h19.6" stroke="#d81c34" stroke-width="1.9"/>
<path d="M435.40 224.00L437.45 227.75L433.35 227.75Z" fill="#1f16b0" fill-opacity="0.45" stroke="#1f16b0" stroke-width="1.3" stroke-linejoin="round"/>
<text x="454.8" y="206.1" font-size="7.9" text-anchor="start">Kalugina et al.</text>
<text x="454.8" y="218.5" font-size="8.25" text-anchor="start">V6D</text>
<text x="454.8" y="229.6" font-size="8.25" text-anchor="start">V4H2-0</text>
<text x="148.3" y="373.8" font-size="13.5" text-anchor="middle">Collision energy (cm<tspan font-size="8.5" dy="-8">-1</tspan><tspan dy="8">)</tspan></text>
<text x="405.9" y="373.8" font-size="13.5" text-anchor="middle">Collision energy (cm<tspan font-size="8.5" dy="-8">-1</tspan><tspan dy="8">)</tspan></text>
<text transform="translate(14.8 80.45) rotate(-90)" x="0" y="0" font-size="13.4" text-anchor="middle">Cross section (10<tspan font-size="9.5" dy="-8.5">-16</tspan><tspan dy="8.5">cm</tspan><tspan font-size="9.5" dy="-8.5">2</tspan><tspan dy="8.5">)</tspan></text>
<text transform="translate(14.8 262.25) rotate(-90)" x="0" y="0" font-size="13.4" text-anchor="middle">Cross section (10<tspan font-size="9.5" dy="-8.5">-16</tspan><tspan dy="8.5">cm</tspan><tspan font-size="9.5" dy="-8.5">2</tspan><tspan dy="8.5">)</tspan></text>
</g></svg></body></html>
